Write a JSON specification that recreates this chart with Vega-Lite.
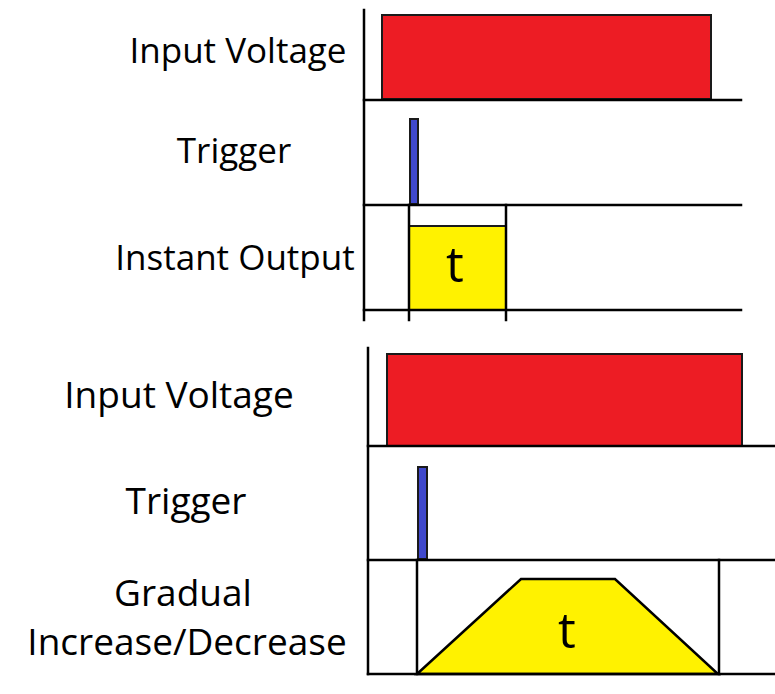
{
  "$schema": "https://vega.github.io/schema/vega-lite/v6.json",
  "width": 775,
  "height": 694,
  "padding": 0,
  "autosize": {"type": "none"},
  "background": "white",
  "config": {"view": {"stroke": null}},
  "datasets": {
    "pulses": [
      {"panel": "Instant", "signal": "Input Voltage", "start": 382, "end": 711, "low": 99, "high": 15},
      {"panel": "Instant", "signal": "Trigger", "start": 410, "end": 418, "low": 204, "high": 119},
      {"panel": "Instant", "signal": "Output", "start": 409, "end": 506, "low": 310, "high": 226},
      {"panel": "Gradual", "signal": "Input Voltage", "start": 387, "end": 742, "low": 446, "high": 354},
      {"panel": "Gradual", "signal": "Trigger", "start": 418, "end": 427, "low": 559, "high": 467}
    ],
    "ramp": [
      {"panel": "Gradual", "time": 417, "level": 674, "base": 674},
      {"panel": "Gradual", "time": 521, "level": 579, "base": 674},
      {"panel": "Gradual", "time": 615, "level": 579, "base": 674},
      {"panel": "Gradual", "time": 718, "level": 674, "base": 674}
    ],
    "grid": [
      {"panel": "Instant", "x": 364, "x2": 364, "y": 10, "y2": 320},
      {"panel": "Instant", "x": 364, "x2": 741, "y": 100, "y2": 100},
      {"panel": "Instant", "x": 364, "x2": 741, "y": 205, "y2": 205},
      {"panel": "Instant", "x": 364, "x2": 741, "y": 310, "y2": 310},
      {"panel": "Instant", "x": 409, "x2": 409, "y": 205, "y2": 320},
      {"panel": "Instant", "x": 506, "x2": 506, "y": 205, "y2": 320},
      {"panel": "Gradual", "x": 368, "x2": 368, "y": 348, "y2": 674},
      {"panel": "Gradual", "x": 368, "x2": 775, "y": 446, "y2": 446},
      {"panel": "Gradual", "x": 368, "x2": 775, "y": 560, "y2": 560},
      {"panel": "Gradual", "x": 368, "x2": 775, "y": 674, "y2": 674},
      {"panel": "Gradual", "x": 417, "x2": 417, "y": 560, "y2": 674},
      {"panel": "Gradual", "x": 719, "x2": 719, "y": 560, "y2": 674}
    ],
    "labels": [
      {"panel": "Instant", "label": "Input Voltage", "x": 238, "y": 63},
      {"panel": "Instant", "label": "Trigger", "x": 234, "y": 163},
      {"panel": "Instant", "label": "Instant Output", "x": 235, "y": 270},
      {"panel": "Gradual", "label": "Input Voltage", "x": 179, "y": 408},
      {"panel": "Gradual", "label": "Trigger", "x": 186, "y": 514},
      {"panel": "Gradual", "label": "Gradual", "x": 183, "y": 606},
      {"panel": "Gradual", "label": "Increase/Decrease", "x": 187, "y": 655}
    ],
    "durations": [
      {"panel": "Instant", "label": "t", "x": 455, "y": 282},
      {"panel": "Gradual", "label": "t", "x": 567, "y": 648}
    ]
  },
  "layer": [
    {
      "data": {"name": "ramp"},
      "mark": {"type": "area", "color": "#FFF200", "stroke": "black", "strokeWidth": 2.5, "strokeJoin": "miter"},
      "encoding": {
        "x": {"field": "time", "type": "quantitative", "scale": {"domain": [0, 775], "nice": false, "zero": false}, "axis": null},
        "y": {"field": "level", "type": "quantitative", "scale": {"domain": [0, 694], "reverse": true, "nice": false, "zero": false}, "axis": null},
        "y2": {"field": "base"}
      }
    },
    {
      "data": {"name": "pulses"},
      "mark": {"type": "rect", "stroke": "#1a1a1a", "strokeWidth": 2},
      "encoding": {
        "x": {"field": "start", "type": "quantitative"},
        "x2": {"field": "end"},
        "y": {"field": "high", "type": "quantitative"},
        "y2": {"field": "low"},
        "fill": {"field": "signal", "type": "nominal", "scale": {"domain": ["Input Voltage", "Trigger", "Output"], "range": ["#ED1C24", "#3F48CC", "#FFF200"]}, "legend": null}
      }
    },
    {
      "data": {"name": "grid"},
      "mark": {"type": "rule", "color": "black", "strokeWidth": 2.5, "strokeCap": "square"},
      "encoding": {
        "x": {"field": "x", "type": "quantitative"},
        "x2": {"field": "x2"},
        "y": {"field": "y", "type": "quantitative"},
        "y2": {"field": "y2"}
      }
    },
    {
      "data": {"name": "labels"},
      "transform": [{"filter": "datum.panel === 'Instant'"}],
      "mark": {"type": "text", "font": "Open Sans", "fontSize": 35, "align": "center", "baseline": "alphabetic", "color": "black"},
      "encoding": {
        "x": {"field": "x", "type": "quantitative"},
        "y": {"field": "y", "type": "quantitative"},
        "text": {"field": "label"}
      }
    },
    {
      "data": {"name": "labels"},
      "transform": [{"filter": "datum.panel === 'Gradual'"}],
      "mark": {"type": "text", "font": "Open Sans", "fontSize": 37, "align": "center", "baseline": "alphabetic", "color": "black"},
      "encoding": {
        "x": {"field": "x", "type": "quantitative"},
        "y": {"field": "y", "type": "quantitative"},
        "text": {"field": "label"}
      }
    },
    {
      "data": {"name": "durations"},
      "mark": {"type": "text", "font": "Open Sans", "fontSize": 50, "align": "center", "baseline": "alphabetic", "color": "black"},
      "encoding": {
        "x": {"field": "x", "type": "quantitative"},
        "y": {"field": "y", "type": "quantitative"},
        "text": {"field": "label"}
      }
    }
  ]
}
